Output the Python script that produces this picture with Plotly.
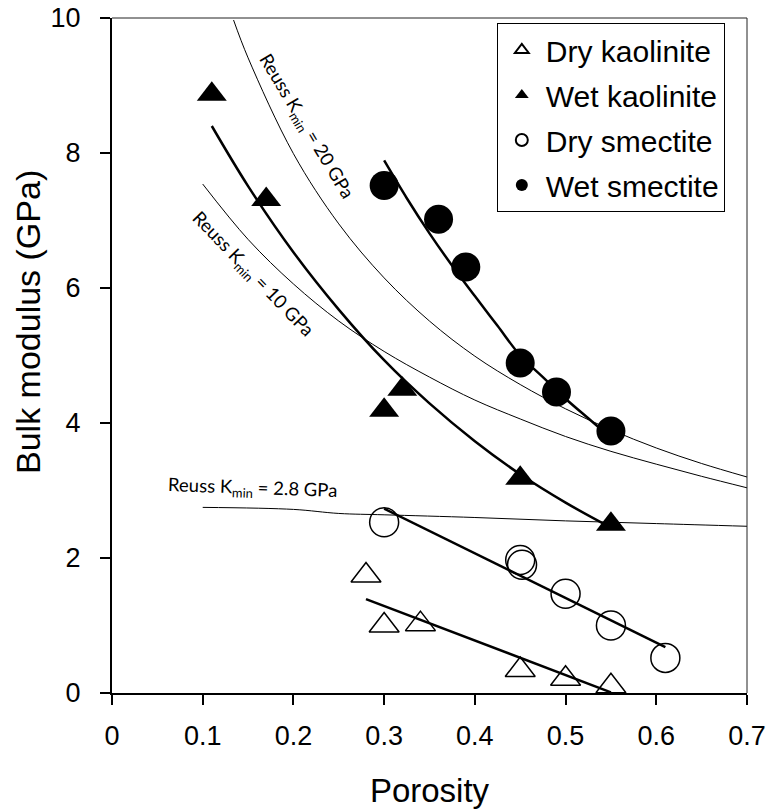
import plotly.graph_objects as go

# ---- measured data ----
dry_kao_x = [0.28, 0.30, 0.34, 0.45, 0.50, 0.55]
dry_kao_y = [1.74, 1.00, 1.02, 0.34, 0.21, 0.10]

wet_kao_x = [0.11, 0.17, 0.30, 0.32, 0.45, 0.55]
wet_kao_y = [8.87, 7.31, 4.19, 4.50, 3.18, 2.50]

dry_sme_x = [0.30, 0.45, 0.452, 0.50, 0.55, 0.61]
dry_sme_y = [2.53, 1.97, 1.90, 1.47, 1.00, 0.52]

wet_sme_x = [0.30, 0.36, 0.39, 0.45, 0.49, 0.55]
wet_sme_y = [7.52, 7.02, 6.31, 4.89, 4.46, 3.88]

# ---- fitted trend lines ----
fit_dry_kao_x = [0.28, 0.55]
fit_dry_kao_y = [1.39, 0.01]

fit_dry_sme_x = [0.30, 0.61]
fit_dry_sme_y = [2.73, 0.68]

fit_wet_kao_x = [0.11, 0.15, 0.20, 0.25, 0.30, 0.35, 0.40, 0.45, 0.50, 0.55]
fit_wet_kao_y = [8.40, 7.51, 6.53, 5.68, 4.93, 4.29, 3.73, 3.24, 2.82, 2.45]

fit_wet_sme_x = [0.30, 0.325, 0.35, 0.375, 0.40, 0.425, 0.45, 0.475, 0.50, 0.525, 0.55]
fit_wet_sme_y = [7.89, 7.33, 6.81, 6.33, 5.88, 5.44, 5.00, 4.68, 4.36, 4.07, 3.78]

# ---- Reuss bounds ----
reuss20_x = [0.134, 0.15, 0.20, 0.25, 0.30, 0.35, 0.40, 0.45, 0.50, 0.55, 0.60, 0.65, 0.70]
reuss20_y = [9.97, 9.41, 7.99, 6.95, 6.15, 5.51, 4.99, 4.57, 4.21, 3.90, 3.63, 3.40, 3.20]

reuss10_x = [0.10, 0.15, 0.20, 0.25, 0.30, 0.35, 0.40, 0.45, 0.50, 0.55, 0.60, 0.65, 0.70]
reuss10_y = [7.54, 6.72, 6.06, 5.51, 5.06, 4.68, 4.34, 4.06, 3.80, 3.58, 3.39, 3.21, 3.04]

reuss28_x = [0.10, 0.20, 0.25, 0.30, 0.40, 0.50, 0.60, 0.70]
reuss28_y = [2.75, 2.72, 2.66, 2.64, 2.60, 2.55, 2.51, 2.47]

FONT = "Liberation Sans, Arial, sans-serif"
ANNFONT = "Lato, Open Sans, sans-serif"

fig = go.Figure()

def line(x, y, w, shape="linear"):
    fig.add_trace(go.Scatter(x=x, y=y, mode="lines", showlegend=False,
                             hoverinfo="skip",
                             line=dict(color="black", width=w, shape=shape)))

line(reuss20_x, reuss20_y, 1, "spline")
line(reuss10_x, reuss10_y, 1, "spline")
line(reuss28_x, reuss28_y, 1, "spline")
line(fit_wet_kao_x, fit_wet_kao_y, 2.5, "spline")
line(fit_wet_sme_x, fit_wet_sme_y, 2.5, "spline")
line(fit_dry_kao_x, fit_dry_kao_y, 2.5)
line(fit_dry_sme_x, fit_dry_sme_y, 2.5)

def pts(x, y, name, symbol, size, lw):
    fig.add_trace(go.Scatter(x=x, y=y, mode="markers", name=name, legendgroup=name,
                             marker=dict(symbol=symbol, size=size, color="black",
                                         line=dict(color="black", width=lw))))

pts(dry_kao_x, dry_kao_y, "Dry kaolinite", "triangle-up-open", 26, 1.5)
pts(wet_kao_x, wet_kao_y, "Wet kaolinite", "triangle-up", 26, 0)
pts(dry_sme_x, dry_sme_y, "Dry smectite", "circle-open", 29, 1.5)
pts(wet_sme_x, wet_sme_y, "Wet smectite", "circle", 29, 0)

ann = [
    dict(x=0.214, y=8.40, text="Reuss K<sub>min</sub> = 20 GPa", textangle=59),
    dict(x=0.155, y=6.20, text="Reuss K<sub>min</sub> = 10 GPa", textangle=46),
    dict(x=0.155, y=3.03, text="Reuss K<sub>min</sub> = 2.8 GPa", textangle=2),
]
for a in ann:
    fig.add_annotation(xref="x", yref="y", showarrow=False,
                       font=dict(family=ANNFONT, size=18.5, color="black"), **a)

# y-axis title (placed slightly above the axis centre, as in the reference)
fig.add_annotation(xref="paper", yref="paper", x=-0.1323, y=0.5496,
                   xanchor="center", yanchor="middle", showarrow=False,
                   text="Bulk modulus (GPa)", textangle=-90,
                   font=dict(family=FONT, size=34, color="black"))

fig.update_layout(
    width=768, height=812,
    margin=dict(l=112, r=21, t=18, b=119, autoexpand=False),
    paper_bgcolor="white", plot_bgcolor="white",
    font=dict(family=FONT, size=27, color="black"),
    showlegend=True,
    legend=dict(x=0.606, y=0.9926, xanchor="left", yanchor="top",
                bordercolor="black", borderwidth=1, bgcolor="white",
                font=dict(family=FONT, size=30, color="black"),
                traceorder="grouped", tracegroupgap=3, itemsizing="constant",
                itemwidth=38),
    shapes=[
        dict(type="line", xref="paper", yref="paper", x0=0, x1=1, y0=1, y1=1,
             line=dict(color="#222", width=1)),
        dict(type="line", xref="paper", yref="paper", x0=1, x1=1, y0=0, y1=1,
             line=dict(color="#222", width=1)),
    ],
)
fig.update_xaxes(range=[0, 0.7], dtick=0.1, tick0=0, showgrid=False, zeroline=False,
                 automargin=False,
                 showline=True, linecolor="black", linewidth=2,
                 ticks="outside", ticklen=10, tickwidth=1.5, tickcolor="black",
                 ticklabelstandoff=8,
                 title=dict(text="Porosity", font=dict(size=33), standoff=28))
fig.update_yaxes(range=[0, 10], dtick=2, tick0=0, showgrid=False, zeroline=False,
                 automargin=False,
                 showline=True, linecolor="black", linewidth=2,
                 ticks="outside", ticklen=10, tickwidth=1.5, tickcolor="black",
                 ticklabelstandoff=14)

fig.write_html("out.html")
